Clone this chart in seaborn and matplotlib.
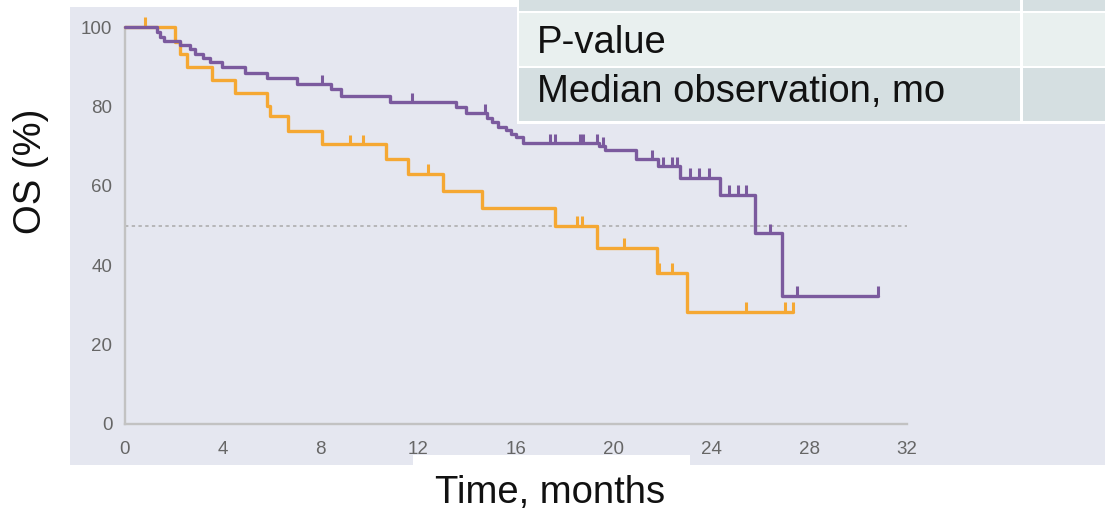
import numpy as np
import pandas as pd
import matplotlib
matplotlib.use("Agg")
import matplotlib.pyplot as plt
from matplotlib.patches import Rectangle
import seaborn as sns

# Kaplan-Meier step points: time (months) and overall survival (%) after each drop
purple_times = [0, 1.3, 1.45, 1.6, 2.25, 2.66, 2.86, 3.2, 3.48, 3.96, 4.9, 5.8, 7.05,
                8.45, 8.85, 10.85, 13.55, 13.95, 14.8, 15.0, 15.27, 15.6, 15.8, 16.0,
                16.3, 19.4, 19.65, 20.9, 21.8, 22.7, 24.35, 25.8, 26.9]
purple_surv = [100, 98.8, 97.6, 96.4, 95.4, 94.4, 93.3, 92.1, 91.1, 90.0, 88.5, 87.1, 85.6,
               84.5, 82.6, 81.1, 79.9, 78.3, 77.0, 76.1, 74.9, 74.0, 73.1, 72.2,
               70.7, 69.9, 69.0, 66.7, 64.9, 62.0, 57.8, 48.0, 32.3]
purple_censor = [8.05, 11.75, 14.73, 17.4, 17.6, 18.6, 18.75, 19.3, 19.55, 21.55, 22.0,
                 22.4, 22.6, 23.1, 23.5, 23.9, 24.7, 25.1, 25.4, 26.4, 27.5, 30.8]

orange_times = [0, 2.05, 2.25, 2.52, 3.58, 4.5, 5.8, 5.93, 6.68, 8.05, 10.7, 11.57, 13.0,
                14.6, 17.6, 19.3, 21.75, 23.0]
orange_surv = [100, 96.3, 93.3, 90.0, 86.6, 83.5, 80.0, 77.5, 73.8, 70.5, 66.8, 63.0, 58.8,
               54.4, 50.0, 44.4, 38.1, 28.3]
orange_censor = [0.8, 9.22, 9.73, 12.4, 18.5, 18.7, 20.4, 21.85, 22.4, 25.4, 27.0, 27.35]

x_ticks = [0, 4, 8, 12, 16, 20, 24, 28, 32]
y_ticks = [0, 20, 40, 60, 80, 100]
table_rows = ["P-value", "Median observation, mo"]

PURPLE = "#7b5a9e"
ORANGE = "#f5a833"
PANEL = "#e5e7f0"
W, H = 1105, 512

sns.set_style("white")
plt.rcParams["font.family"] = ["Liberation Sans", "DejaVu Sans"]

fig = plt.figure(figsize=(W / 100, H / 100), dpi=100)


def fx(px):
    return px / W


def fy(py):
    return 1 - py / H


# shaded panel behind the plot
fig.patches.append(Rectangle((fx(70), fy(465)), 1 - fx(70), fy(7) - fy(465),
                             transform=fig.transFigure, facecolor=PANEL,
                             edgecolor="none", zorder=-1))

ax = fig.add_axes([fx(125), fy(424), fx(907) - fx(125), fy(27) - fy(424)])
ax.set_facecolor("none")


def km_frame(times, surv, censor):
    t = list(times) + [max(censor)]
    s = list(surv) + [surv[-1]]
    return pd.DataFrame({"t": t, "s": s})


def censor_levels(times, surv, censor):
    idx = np.searchsorted(np.asarray(times), np.asarray(censor), side="right") - 1
    return np.asarray(surv)[idx]


ax.axhline(50, color="#a9a9a9", lw=1.1, linestyle=(0, (2.2, 2.2)), zorder=1)

for times, surv, censor, col in [(orange_times, orange_surv, orange_censor, ORANGE),
                                 (purple_times, purple_surv, purple_censor, PURPLE)]:
    df = km_frame(times, surv, censor)
    sns.lineplot(data=df, x="t", y="s", ax=ax, color=col, lw=2.4,
                 drawstyle="steps-post", estimator=None, clip_on=False, zorder=3)
    lv = censor_levels(times, surv, censor)
    ax.vlines(censor, lv, lv + 2.4, color=col, lw=2.2, clip_on=False, zorder=3)

ax.set_xlim(0, 32)
ax.set_ylim(0, 100)
ax.set_xticks(x_ticks)
ax.set_yticks(y_ticks)
ax.set_xlabel("")
ax.set_ylabel("")
for side in ["top", "right"]:
    ax.spines[side].set_visible(False)
for side in ["left", "bottom"]:
    ax.spines[side].set_color("#c2c2c2")
    ax.spines[side].set_linewidth(1.7)
ax.tick_params(axis="both", colors="#c2c2c2", labelcolor="#666666",
               labelsize=13.5, width=1.2, direction="out")
ax.tick_params(axis="y", length=6, pad=3)
ax.tick_params(axis="x", length=5, pad=7.5)

# white box holding the axis title
fig.patches.append(Rectangle((fx(413), 0), fx(690) - fx(413), fy(455),
                             transform=fig.transFigure, facecolor="white",
                             edgecolor="none", zorder=5))
fig.text(fx(550), fy(503), "Time, months", ha="center", va="baseline",
         fontsize=27.5, color="#111111", zorder=6)
fig.text(fx(31), fy(171), "OS (%)", rotation=90, ha="center", va="center",
         fontsize=27.5, color="#111111", zorder=6)

# summary table in the upper right
fig.patches.append(Rectangle((fx(517), fy(124)), 1 - fx(517), fy(0) - fy(124),
                             transform=fig.transFigure, facecolor="white",
                             edgecolor="none", zorder=5))
row_bounds = [(-2, 11, "#d5dfe1"), (13, 66, "#e9f0ef"), (68, 121, "#d5dfe1")]
for top, bot, col in row_bounds:
    for x0, x1 in [(519, 1020), (1023, W)]:
        fig.patches.append(Rectangle((fx(x0), fy(bot)), fx(x1) - fx(x0), fy(top) - fy(bot),
                                     transform=fig.transFigure, facecolor=col,
                                     edgecolor="none", zorder=6))
for label, base in zip(table_rows, [53, 102]):
    fig.text(fx(537), fy(base), label, ha="left", va="baseline",
             fontsize=27.5, color="#111111", zorder=7)

fig.savefig("out.png", dpi=100)
